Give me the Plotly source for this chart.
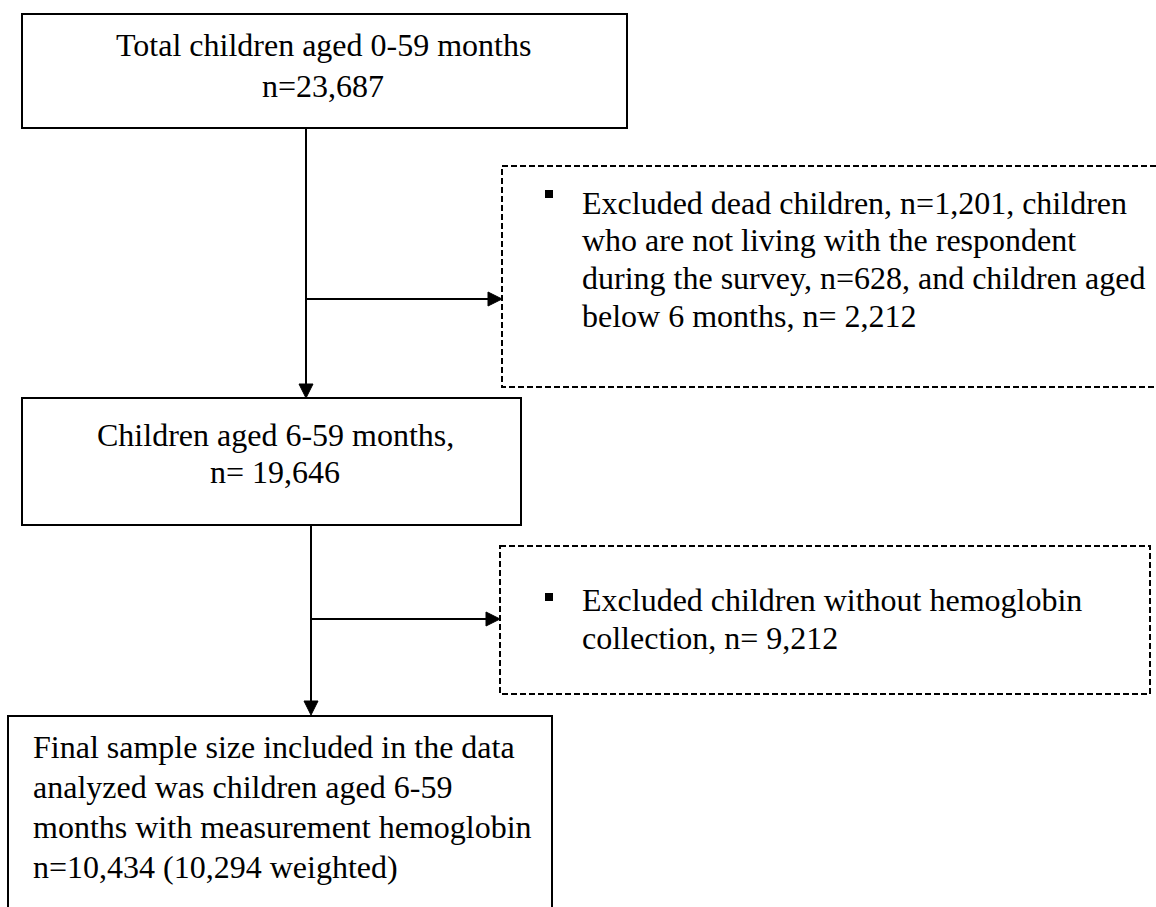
import plotly.graph_objects as go

# ---- content (data) ----
box1_lines = ["Total children aged 0-59 months", "n=23,687"]
excl1_lines = ["Excluded dead children, n=1,201, children",
               "who are not living with the respondent",
               "during the survey, n=628, and children aged",
               "below 6 months, n= 2,212"]
box2_lines = ["Children aged 6-59 months,", "n= 19,646"]
excl2_lines = ["Excluded children without hemoglobin",
               "collection, n= 9,212"]
box3_lines = ["Final sample size included in the data",
              "analyzed was children aged 6-59",
              "months with measurement hemoglobin",
              "n=10,434 (10,294 weighted)"]

W, H = 1156, 907
FONT = "Liberation Serif, Times New Roman, serif"
FS = 32

fig = go.Figure()
shapes = []
annotations = []

def solid(path):
    shapes.append(dict(type="path", path=path, xref="x", yref="y",
                       line=dict(color="black", width=2)))

def dashed(path):
    shapes.append(dict(type="path", path=path, xref="x", yref="y",
                       line=dict(color="black", width=2, dash="6px,3px")))

def tri_down(x, y, L=14, w=7):
    shapes.append(dict(type="path", xref="x", yref="y",
                       path=f"M {x-w},{y-L} L {x+w},{y-L} L {x},{y} Z",
                       fillcolor="black", line=dict(color="black", width=1)))

def tri_right(x, y, L=14, w=7):
    shapes.append(dict(type="path", xref="x", yref="y",
                       path=f"M {x-L},{y-w} L {x-L},{y+w} L {x},{y} Z",
                       fillcolor="black", line=dict(color="black", width=1)))

def text(lines, x, ys, anchor):
    for t, y in zip(lines, ys):
        annotations.append(dict(x=x, y=y, xref="x", yref="y", text=t,
                                showarrow=False, xanchor=anchor, yanchor="middle",
                                font=dict(family=FONT, size=FS, color="black")))

# Box 1
solid("M 22,14 L 627,14 L 627,128 L 22,128 Z")
text(box1_lines, 323, [45, 86], "center")

# connector 1 (down) and branch to exclusion 1
solid("M 306,128 L 306,386")
tri_down(306, 398)
solid("M 306,299 L 490,299")
tri_right(502, 299)

# Exclusion box 1 (right side runs off the page)
dashed("M 1165,166 L 502,166 L 502,387 L 1165,387")
shapes.append(dict(type="rect", xref="x", yref="y", x0=545, x1=553, y0=190, y1=198,
                   fillcolor="black", line=dict(width=0)))
text(excl1_lines, 580, [203, 240, 278, 316], "left")

# Box 2
solid("M 22,398 L 521,398 L 521,525 L 22,525 Z")
text(box2_lines, 275, [435, 472], "center")

# connector 2
solid("M 311,525 L 311,703")
tri_down(311, 715)
solid("M 311,619 L 488,619")
tri_right(500, 619)

# Exclusion box 2
dashed("M 500,546 L 1150,546 L 1150,694 L 500,694 Z")
shapes.append(dict(type="rect", xref="x", yref="y", x0=545, x1=553, y0=593, y1=601,
                   fillcolor="black", line=dict(width=0)))
text(excl2_lines, 580, [600, 638], "left")

# Box 3 (bottom runs off the page)
solid("M 8,925 L 8,716 L 552,716 L 552,925")
text(box3_lines, 31, [747, 787, 827, 867], "left")

fig.update_layout(
    width=W, height=H,
    margin=dict(l=0, r=0, t=0, b=0),
    paper_bgcolor="white", plot_bgcolor="white",
    xaxis=dict(range=[0, W], visible=False, fixedrange=True),
    yaxis=dict(range=[H, 0], visible=False, fixedrange=True),
    shapes=shapes, annotations=annotations,
    showlegend=False,
)

fig.write_html("out.html", config={"displayModeBar": False},
               post_script="document.body.style.margin='0';document.body.style.overflow='hidden';")
